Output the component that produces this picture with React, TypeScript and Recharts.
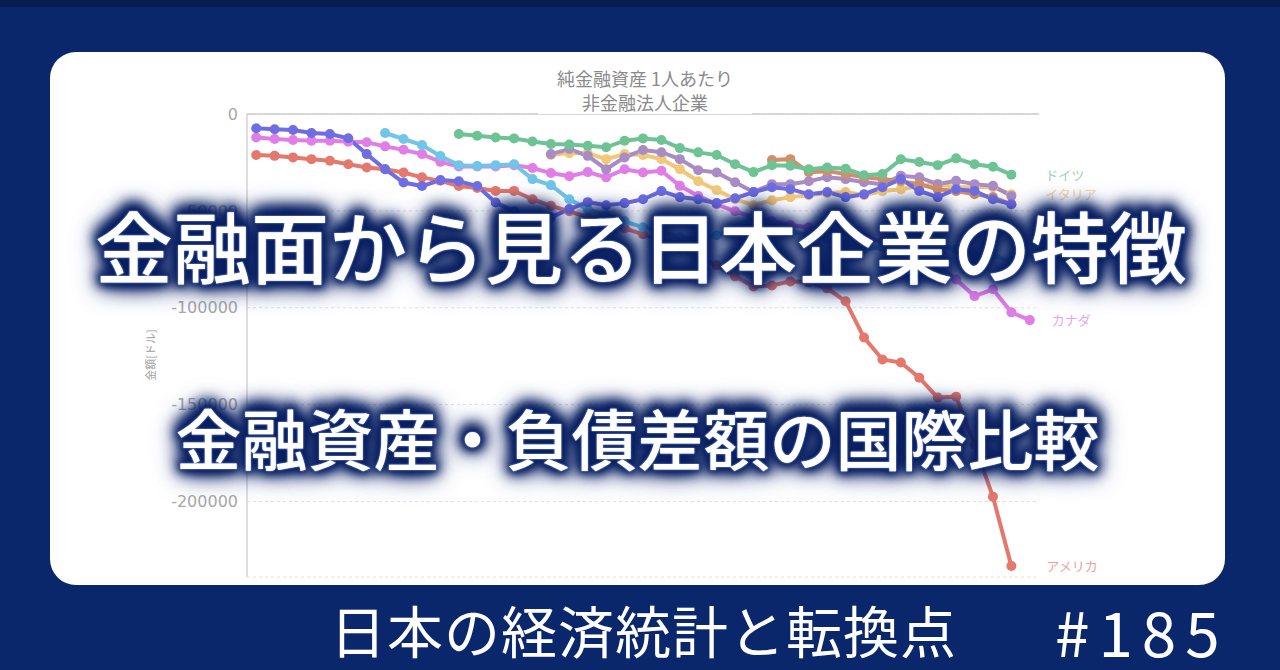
import React from 'react'
import { LineChart, Line, XAxis, YAxis, CartesianGrid } from 'recharts'

// years on the x axis (no labels shown)
const years = [
  1980, 1981, 1982, 1983, 1984, 1985, 1986, 1987, 1988, 1989,
  1990, 1991, 1992, 1993, 1994, 1995, 1996, 1997, 1998, 1999,
  2000, 2001, 2002, 2003, 2004, 2005, 2006, 2007, 2008, 2009,
  2010, 2011, 2012, 2013, 2014, 2015, 2016, 2017, 2018, 2019,
  2020, 2021, 2022,
]

// net financial assets per person, USD
const usa = [
  -21200, -21600, -22400, -23300, -24100, -25900, -27600, -28500, -30200, -32700,
  -34500, -37200, -38200, -39700, -39700, -44000, -47400, -50200, -53300, -56400,
  -59000, -62100, -65700, -69800, -73500, -78100, -83800, -89000, -88500, -86400,
  -86900, -90000, -96700, -115400, -126700, -128300, -136100, -146400, -145900, -170700,
  -197600, -233300,
]
const canada = [
  -12100, -12900, -13400, -13800, -13800, -14300, -14600, -16700, -18500, -20700,
  -24700, -27100, -27100, -27100, -26400, -27900, -30500, -32100, -30000, -32700,
  -28500, -30200, -29300, -37100, -42300, -46600, -50200, -53300, -55400, -57400,
  -58500, -59500, -61600, -63600, -65700, -67800, -70900, -77600, -85400, -94000,
  -90500, -102400, -106400,
]
const japan = [
  -7400, -7900, -8300, -9800, -10300, -12500, -20700, -28500, -35400, -37200,
  -34100, -34700, -37200, -45700, -50200, -54300, -53300, -49100, -45500, -47100,
  -46000, -44000, -39800, -42900, -44000, -46000, -43500, -40300, -37800, -38800,
  -41400, -40300, -42900, -41400, -37800, -33600, -39700, -42900, -38800, -39700,
  -44000, -46600,
]
// from 1987
const uk = [
  -9800, -12900, -16000, -21700, -26400, -26900, -26400, -25900, -33600, -36700,
  -44000, -49100, -52200, -55400, -58500, -60500, -63600, -64700, -62600, -59500,
  -57400, -58500, -60500, -62600, -64700, -66700, -69800, -68800, -65700, -64700,
  -67800, -69800, -71900, -72900, -76000,
]
// from 1991
const germany = [
  -10300, -11200, -12100, -12600, -14200, -15500, -15800, -16400, -17200, -13800,
  -12600, -13400, -17600, -19800, -21200, -25900, -30000, -26500, -26700, -28500,
  -27600, -28200, -31600, -31000, -23400, -24800, -26400, -22900, -25900, -27200,
  -31300,
]
// from 1996
const france = [
  -20700, -18100, -21600, -28500, -22400, -18600, -19700, -23300, -29000, -30200,
  -35200, -40300, -36200, -36200, -34700, -32600, -33600, -35200, -36200, -31900,
  -32700, -36200, -34500, -36200, -37100, -42300,
]
const italy = [
  -21200, -20200, -20200, -23300, -20700, -21200, -23300, -28500, -34700, -39300,
  -44000, -47100, -44500, -42900, -41900, -40900, -40300, -41900, -39800, -38800,
  -37200, -36200, -37800, -37800, -37800, -41400,
]
// from 2008
const korea = [
  -23800, -23300, -30000, -29500, -31000, -32600, -33600, -34700, -36200, -38800,
  -39800, -41400, -42900, -46600,
]

const yTicks = [0, -50000, -100000, -150000, -200000]

const series = [
  { key: 'usa', name: 'アメリカ', values: usa, start: 1980, color: '#e5786d', dx: 35, label: true },
  { key: 'canada', name: 'カナダ', values: canada, start: 1980, color: '#e07de6', dx: 22, label: true },
  { key: 'uk', name: 'イギリス', values: uk, start: 1987, color: '#70c5e8', dx: 34, label: false },
  { key: 'italy', name: 'イタリア', values: italy, start: 1996, color: '#f1c878', dx: 34, label: true },
  { key: 'france', name: 'フランス', values: france, start: 1996, color: '#a98cc4', dx: 34, label: false },
  { key: 'korea', name: '韓国', values: korea, start: 2008, color: '#cf8f6a', dx: 34, label: false },
  { key: 'japan', name: '日本', values: japan, start: 1980, color: '#6f6de2', dx: 34, label: false },
  { key: 'germany', name: 'ドイツ', values: germany, start: 1991, color: '#6dc394', dx: 34, label: true },
]

const data = years.map((year) => {
  const row: any = { year }
  series.forEach((s) => {
    const k = year - s.start
    row[s.key] = k >= 0 && k < s.values.length ? s.values[k] : null
  })
  return row
})

const xTicks = years.map((y) => y - 0.5).concat([years[years.length - 1] + 0.5])

const cjk = "'Noto Sans CJK JP', 'Noto Sans', sans-serif"
const navy = '#0b276b'
const glow = '#0a2062'

function makeDot(s: any) {
  const last = s.start - years[0] + s.values.length - 1
  return (p: any) => {
    const { cx, cy, index } = p
    if (cx == null || cy == null || isNaN(cy)) return <g key={`${s.key}-${index}`} />
    return (
      <g key={`${s.key}-${index}`}>
        <circle cx={cx} cy={cy} r={5} fill={s.color} />
        {s.label && index === last && (
          <text x={cx + s.dx} y={cy + 5} fontSize={13} fill={s.color} opacity={0.7} fontFamily={cjk}>
            {s.name}
          </text>
        )}
      </g>
    )
  }
}

const bigShadow = [
  `0 0 2px #a8c4ff`,
  `0 0 3px ${glow}`,
  `0 0 6px ${glow}`,
  `0 0 9px ${glow}`,
  `0 0 12px ${glow}`,
  `0 0 14px ${glow}`,
  `0 0 16px ${glow}`,
  `0 -5px 14px ${glow}`,
  `0 -8px 16px ${glow}`,
  `0 0 20px ${glow}`,
  `0 0 24px ${glow}`,
  `0 0 30px #1d3c8c`,
].join(', ')

export default function App() {
  return (
    <div style={{ position: 'fixed', left: 0, top: 0, width: 1280, height: 670, background: navy, overflow: 'hidden' }}>
      <div style={{ position: 'absolute', left: 0, top: 0, width: 1280, height: 7, background: '#081c50' }} />
      <div
        style={{
          position: 'absolute', left: 50, top: 52, width: 1175, height: 533,
          background: '#fff', borderRadius: 26,
        }}
      />
      <div style={{ position: 'absolute', left: 0, top: 0 }}>
        <LineChart width={1280} height={670} data={data} margin={{ top: 114, right: 241, bottom: 93, left: 167 }}>
          <CartesianGrid vertical={false} stroke="#e0e0e0" strokeDasharray="3 3" />
          <XAxis
            dataKey="year"
            type="number"
            orientation="top"
            domain={[xTicks[0], xTicks[xTicks.length - 1]]}
            ticks={xTicks}
            interval={0}
            height={1}
            mirror
            tick={false}
            tickSize={5}
            axisLine={{ stroke: '#cccccc', strokeWidth: 1.5 }}
            tickLine={{ stroke: '#cccccc' }}
          />
          <YAxis
            type="number"
            domain={[-239000, 0]}
            ticks={yTicks}
            interval={0}
            width={80}
            tickLine={false}
            tickSize={0}
            tickMargin={9}
            axisLine={{ stroke: '#d4d4d4', strokeWidth: 1.5 }}
            tick={{ fill: '#a8a8a8', fontSize: 16, fontFamily: "'DejaVu Sans', sans-serif" }}
          />
          {series.map((s) => (
            <Line
              key={s.key}
              dataKey={s.key}
              type="linear"
              stroke={s.color}
              strokeWidth={4}
              dot={makeDot(s)}
              activeDot={false}
              isAnimationActive={false}
            />
          ))}
        </LineChart>
      </div>
      {/* chart title */}
      <div
        style={{
          position: 'absolute', left: 538, top: 66, width: 214, background: '#fff',
          textAlign: 'center', color: '#8a8a8a', fontFamily: cjk, fontSize: 18, lineHeight: '24px',
        }}
      >
        <div>純金融資産 1人あたり</div>
        <div>非金融法人企業</div>
      </div>
      {/* y axis label */}
      <div
        style={{
          position: 'absolute', left: 110, top: 348, width: 80, textAlign: 'center',
          transform: 'rotate(-90deg)', color: '#a0a0a0', fontFamily: cjk, fontSize: 11, lineHeight: '14px',
        }}
      >
        金額[ドル]
      </div>
      {/* overlay headline texts */}
      <div
        style={{
          position: 'absolute', left: 0, top: 205, width: 1282, textAlign: 'center', color: '#fff',
          fontFamily: cjk, fontWeight: 500, fontSize: 78, lineHeight: '78px', textShadow: bigShadow, whiteSpace: 'nowrap',
        }}
      >
        金融面から見る日本企業の特徴
      </div>
      <div
        style={{
          position: 'absolute', left: 0, top: 403, width: 1275, textAlign: 'center', color: '#fff',
          fontFamily: cjk, fontWeight: 500, fontSize: 66, lineHeight: '66px', textShadow: bigShadow, whiteSpace: 'nowrap',
        }}
      >
        金融資産・負債差額の国際比較
      </div>
      <div
        style={{
          position: 'absolute', left: 330, top: 601, color: '#fff', fontFamily: cjk,
          fontSize: 56, lineHeight: '56px', letterSpacing: 1, whiteSpace: 'nowrap',
        }}
      >
        日本の経済統計と転換点
      </div>
      <div
        style={{
          position: 'absolute', left: 1055, top: 599, color: '#fff', fontFamily: cjk,
          fontSize: 62, lineHeight: '62px', letterSpacing: 9, whiteSpace: 'nowrap',
        }}
      >
        #185
      </div>
    </div>
  )
}
